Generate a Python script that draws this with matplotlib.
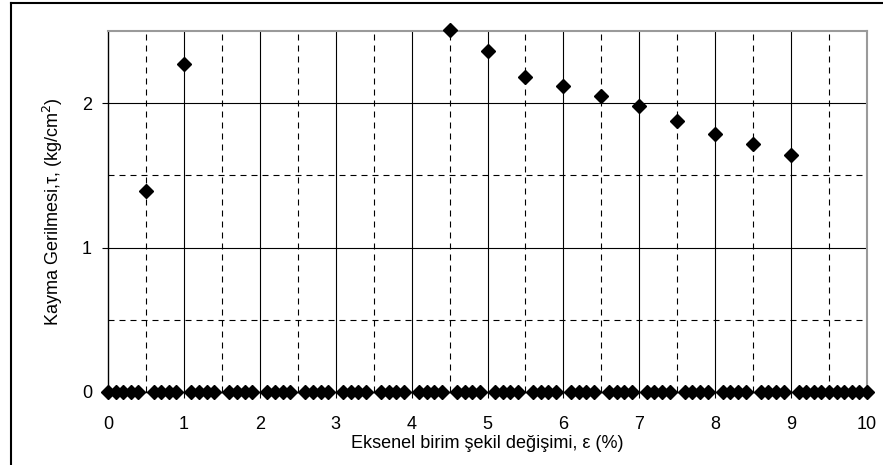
import matplotlib as mpl
import matplotlib.pyplot as plt
from matplotlib.lines import Line2D

mpl.rcParams.update({
    "font.family": ["Liberation Sans", "DejaVu Sans"],
    "font.size": 13,
})

# measured shear stress values (kg/cm2) vs axial strain (%)
strain = [0.5, 1.0, 4.5, 5.0, 5.5, 6.0, 6.5, 7.0, 7.5, 8.0, 8.5, 9.0]
stress = [1.39, 2.27, 2.51, 2.36, 2.18, 2.12, 2.05, 1.98, 1.88, 1.79, 1.72, 1.64]

# zero-valued points along the x axis
zero_x = [
    0.0, 0.1, 0.2, 0.3, 0.4, 0.6, 0.7, 0.8, 0.9,
    1.1, 1.2, 1.3, 1.4, 1.6, 1.7, 1.8, 1.9,
    2.1, 2.2, 2.3, 2.4, 2.6, 2.7, 2.8, 2.9,
    3.1, 3.2, 3.3, 3.4, 3.6, 3.7, 3.8, 3.9,
    4.1, 4.2, 4.3, 4.4, 4.6, 4.7, 4.8, 4.9,
    5.1, 5.2, 5.3, 5.4, 5.6, 5.7, 5.8, 5.9,
    6.1, 6.2, 6.3, 6.4, 6.6, 6.7, 6.8, 6.9,
    7.1, 7.2, 7.3, 7.4, 7.6, 7.7, 7.8, 7.9,
    8.1, 8.2, 8.3, 8.4, 8.6, 8.7, 8.8, 8.9,
    9.1, 9.2, 9.3, 9.4, 9.5, 9.6, 9.7, 9.8, 9.9, 10.0,
]
zero_y = [0.0] * len(zero_x)

x_ticks = [0, 1, 2, 3, 4, 5, 6, 7, 8, 9, 10]
y_ticks = [0, 1, 2]
y_minor = [0.5, 1.5]

fig = plt.figure(figsize=(8.83, 4.65), dpi=100)
ax = fig.add_axes([0.1223, 0.157, 0.8596, 0.7763])

ax.set_xlim(0, 10)
ax.set_ylim(0, 2.5)
ax.set_xticks(x_ticks)
ax.set_yticks(y_ticks)

# Excel-style gridlines: solid at major units, dashed at half units
dash = (0, (5.4, 4.5))
for xv in x_ticks[1:-1]:
    ax.axvline(xv, color="black", lw=0.8, zorder=1)
for xv in x_ticks[:-1]:
    ax.axvline(xv + 0.5, color="black", lw=0.8, ls=dash, zorder=1)
for yv in y_ticks[1:]:
    ax.axhline(yv, color="black", lw=0.8, zorder=1)
for yv in y_minor:
    ax.axhline(yv, color="black", lw=0.8, ls=dash, zorder=1)

ax.plot(zero_x, zero_y, linestyle="none", marker="D", ms=7,
        color="black", clip_on=False, zorder=5)
ax.plot(strain, stress, linestyle="none", marker="D", ms=7,
        color="black", clip_on=False, zorder=5)

for side in ("left", "bottom"):
    ax.spines[side].set_color("black")
    ax.spines[side].set_linewidth(1.0)
for side in ("top", "right"):
    ax.spines[side].set_color("#9a9a9a")
    ax.spines[side].set_linewidth(1.5)

ax.tick_params(axis="both", which="major", direction="out", length=4.5,
               width=0.8, labelsize=13)
ax.tick_params(axis="x", pad=13)
ax.tick_params(axis="y", pad=7)

ax.set_xlabel("Eksenel birim şekil değişimi, ε (%)", fontsize=13, labelpad=1)
ax.set_ylabel("Kayma Gerilmesi,τ, (kg/cm$^2$)", fontsize=13, labelpad=12)

# outer chart-area border (only top and left edges are visible)
fig.add_artist(Line2D([11 / 883, 11 / 883], [0, 1 - 3 / 465],
                      transform=fig.transFigure, color="black", lw=1.5))
fig.add_artist(Line2D([11 / 883, 1], [1 - 3 / 465, 1 - 3 / 465],
                      transform=fig.transFigure, color="black", lw=1.5))

fig.savefig("out.png", dpi=100)
